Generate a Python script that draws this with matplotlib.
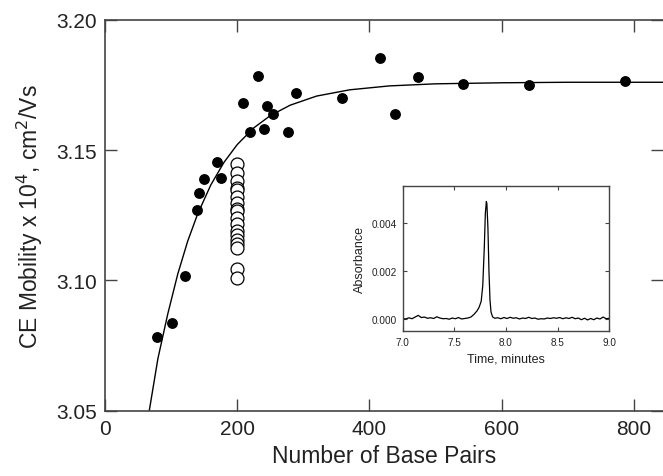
import matplotlib
matplotlib.use("Agg")
import matplotlib.pyplot as plt

plt.rcParams['font.family'] = ['Liberation Sans', 'DejaVu Sans']

# filled points: base pairs vs mobility (x 1e4 cm2/Vs)
bp = [79, 101, 121, 139, 142, 149, 169, 176, 208, 219, 231, 240, 245, 254,
      277, 289, 358, 416, 439, 474, 541, 641, 786]
mob = [3.0784, 3.0836, 3.1018, 3.1269, 3.1335, 3.1387, 3.1455, 3.1392, 3.1679,
       3.1571, 3.1784, 3.1581, 3.1669, 3.1639, 3.1571, 3.1717, 3.1698, 3.1853,
       3.1638, 3.1781, 3.1753, 3.1750, 3.1765]

# open circles at 200 bp
open_bp = [200] * 18
open_mob = [3.1445, 3.1410, 3.1380, 3.1355, 3.1345, 3.1320, 3.1295, 3.1275,
            3.1265, 3.1240, 3.1215, 3.1190, 3.1175, 3.1155, 3.1140, 3.1125,
            3.1045, 3.1010]

# fitted curve, points
fit_bp = [67, 80, 95, 110, 125, 140, 160, 180, 200, 225, 250, 280, 320, 370,
          430, 500, 600, 700, 850]
fit_mob = [3.0501, 3.0700, 3.0872, 3.1024, 3.1150, 3.1254, 3.1366, 3.1453,
           3.1521, 3.1585, 3.1632, 3.1672, 3.1707, 3.1731, 3.1746, 3.1754,
           3.1758, 3.1760, 3.1760]

# inset electropherogram
time_min = [7.00, 7.03, 7.06, 7.09, 7.12, 7.15, 7.18, 7.21, 7.24, 7.27, 7.30,
            7.33, 7.36, 7.39, 7.42, 7.45, 7.48, 7.51, 7.54, 7.57, 7.60, 7.63,
            7.66, 7.69, 7.72, 7.74, 7.76, 7.775, 7.79, 7.80, 7.81, 7.815, 7.825,
            7.835, 7.845, 7.855, 7.87, 7.89, 7.92, 7.95, 7.98, 8.01, 8.04, 8.07,
            8.10, 8.13, 8.16, 8.19, 8.22, 8.25, 8.28, 8.31, 8.34, 8.37, 8.40,
            8.43, 8.46, 8.49, 8.52, 8.55, 8.58, 8.61, 8.64, 8.67, 8.70, 8.73,
            8.76, 8.79, 8.82, 8.85, 8.88, 8.91, 8.94, 8.97, 9.00]
absorb = [0.00003, 0.00001, 0.00006, 0.00002, 0.00009, 0.00016, 0.00007,
          0.00009, 0.00004, 0.00006, 0.00003, 0.00010, 0.00005, 0.00002,
          0.00003, 0.00000, 0.00005, 0.00002, 0.00007, 0.00001, 0.00003,
          0.00005, 0.00009, 0.00020, 0.00035, 0.00050, 0.00075, 0.00140,
          0.00300, 0.00440, 0.00490, 0.00480, 0.00380, 0.00200, 0.00080,
          0.00030, 0.00010, 0.00004, 0.00006, 0.00002, 0.00007, 0.00003,
          0.00008, 0.00004, 0.00006, 0.00001, 0.00005, 0.00003, 0.00008,
          0.00003, 0.00005, 0.00000, 0.00002, 0.00001, 0.00005, 0.00003,
          0.00006, 0.00004, 0.00007, 0.00002, 0.00006, 0.00003, 0.00008,
          0.00002, 0.00005, -0.00002, 0.00004, -0.00003, 0.00003, -0.00002,
          0.00005, 0.00001, 0.00009, 0.00002, 0.00004]

spine_col = "#444444"
text_col = "#222222"

fig = plt.figure(figsize=(6.63, 4.77), dpi=100)
ax = fig.add_axes([0.1584, 0.1369, 0.8416, 0.8197])

ax.plot(fit_bp, fit_mob, color="black", lw=1.0, zorder=2)
ax.plot(bp, mob, "o", color="black", ms=6.8, zorder=3)
ax.plot(open_bp, open_mob, "o", mfc="white", mec="black", mew=0.9, ms=9.3, zorder=3)

ax.set_xlim(0, 844)
ax.set_ylim(3.05, 3.20)
ax.set_xticks([0, 200, 400, 600, 800])
ax.set_yticks([3.05, 3.10, 3.15, 3.20])
ax.set_yticklabels(["3.05", "3.10", "3.15", "3.20"])
ax.tick_params(direction="in", length=8.5, width=1.0, color=spine_col,
               labelsize=15, labelcolor=text_col, top=True, right=True, pad=6)
for s in ["left", "bottom", "top"]:
    ax.spines[s].set_color(spine_col)
    ax.spines[s].set_linewidth(1.2)
ax.spines["right"].set_visible(False)
ax.set_xlabel("Number of Base Pairs", fontsize=16.5, color=text_col, labelpad=4)
ax.set_ylabel(r"CE Mobility x 10$^{4}$, cm$^{2}$/Vs", fontsize=16.5, color=text_col, labelpad=8)

ins = fig.add_axes([0.6074, 0.304, 0.3116, 0.3033])
ins.plot(time_min, absorb, color="black", lw=0.9)
ins.set_xlim(7.0, 9.0)
ins.set_ylim(-0.00049, 0.00553)
ins.set_xticks([7.0, 7.5, 8.0, 8.5, 9.0])
ins.set_xticklabels(["7.0", "7.5", "8.0", "8.5", "9.0"])
ins.set_yticks([0.0, 0.002, 0.004])
ins.set_yticklabels(["0.000", "0.002", "0.004"])
ins.tick_params(direction="in", length=3.2, width=0.8, color=spine_col,
                labelsize=7.2, labelcolor=text_col, top=True, right=True, pad=4)
for s in ins.spines.values():
    s.set_color(spine_col)
    s.set_linewidth(1.0)
ins.set_xlabel("Time, minutes", fontsize=9, color=text_col, labelpad=4)
ins.set_ylabel("Absorbance", fontsize=9, color=text_col, labelpad=4)

fig.savefig("out.png", dpi=100)
